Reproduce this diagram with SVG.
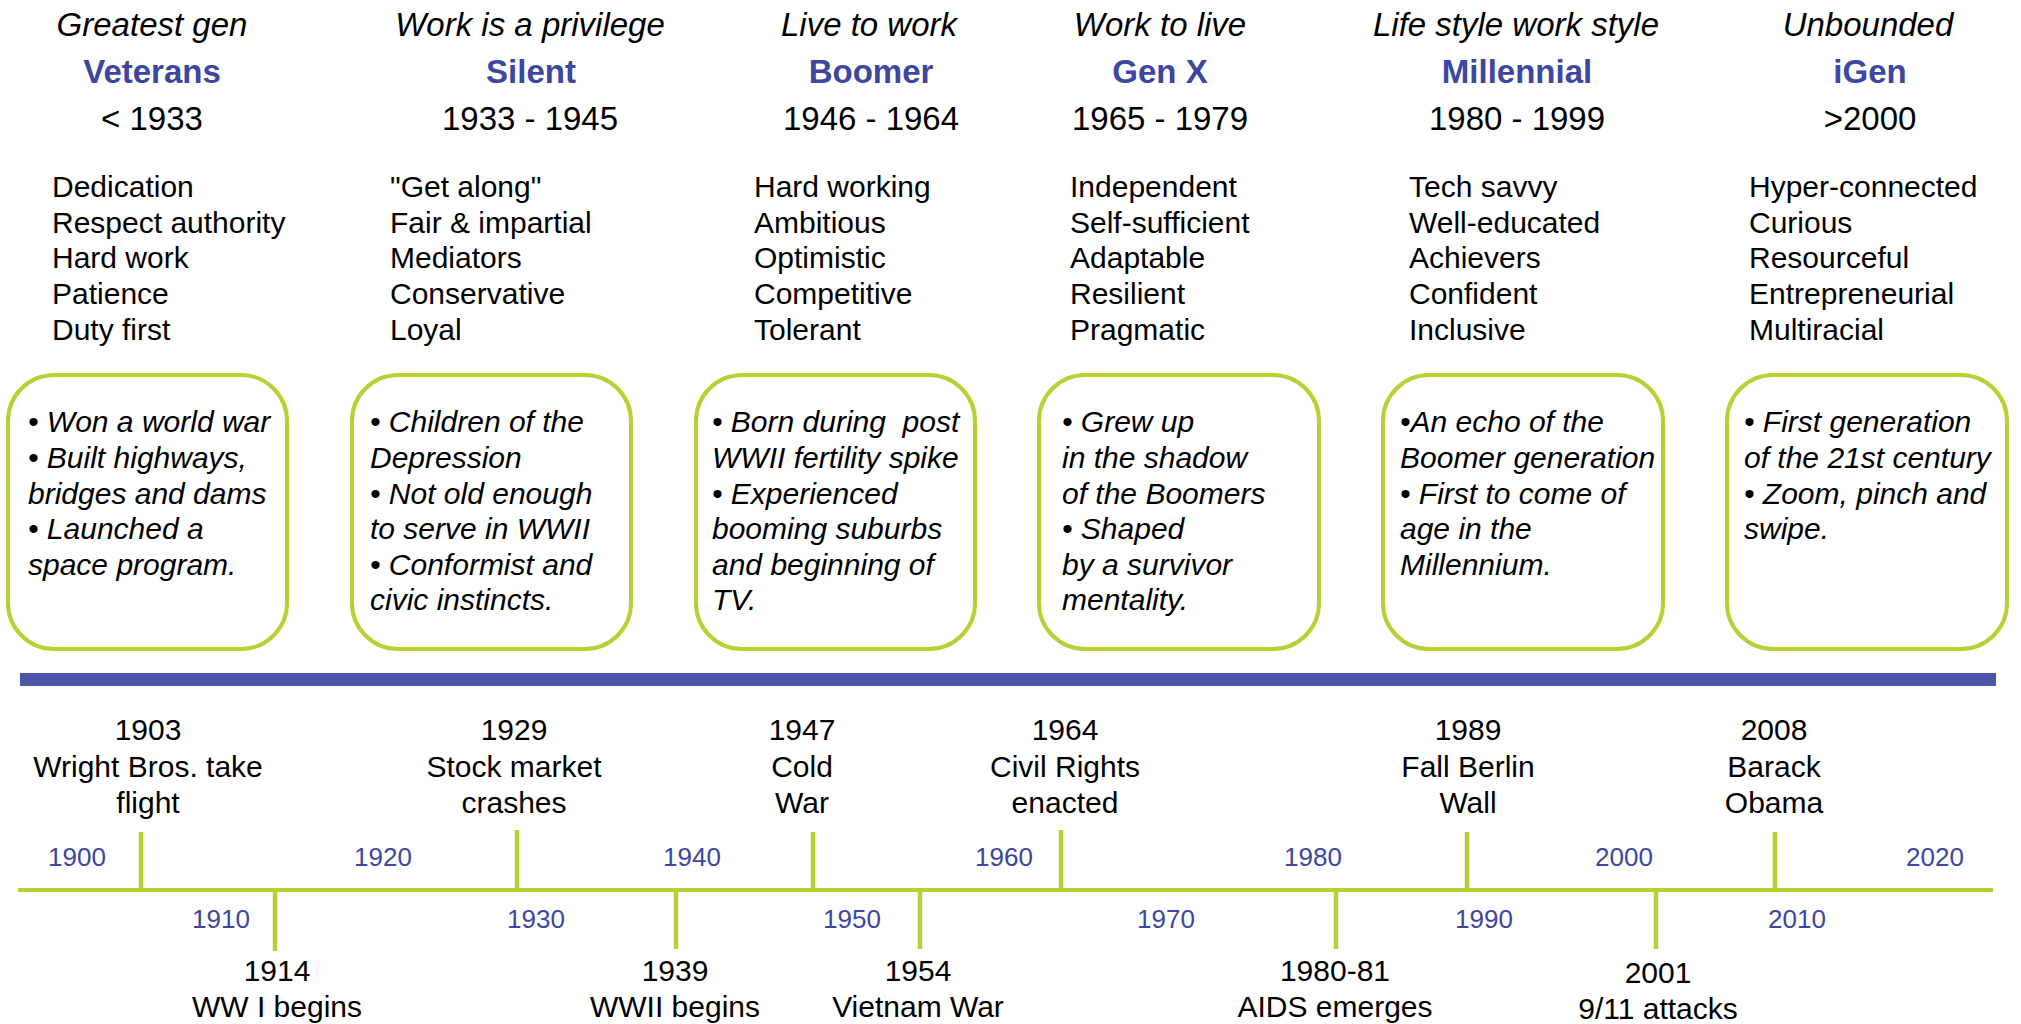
<svg xmlns="http://www.w3.org/2000/svg" width="2021" height="1024" viewBox="0 0 2021 1024">
  <style>
    text { font-family: "Liberation Sans", Arial, sans-serif; fill: #000; }
    .motto { font-size: 33px; font-style: italic; text-anchor: middle; }
    .name { font-size: 33px; font-weight: bold; fill: #3D46A0; text-anchor: middle; }
    .years { font-size: 33px; text-anchor: middle; }
    .trait { font-size: 30px; }
    .note { font-size: 30px; font-style: italic; }
    .box { fill: #fff; stroke: #B3D334; stroke-width: 4; }
    .event { font-size: 30px; text-anchor: middle; }
    .decade { font-size: 26px; fill: #3D46A0; text-anchor: middle; }
    .axis { stroke: #B3D334; stroke-width: 4; fill: none; }
    .tick { stroke: #B3D334; stroke-width: 4.5; fill: none; }
  </style>

  <rect width="2021" height="1024" fill="#fff"/>

  <!-- Generation columns -->
  <g id="gen-veterans">
    <text class="motto" x="152" y="36">Greatest gen</text>
    <text class="name" x="152" y="83">Veterans</text>
    <text class="years" x="152" y="130">&lt; 1933</text>
    <text class="trait" x="52" y="197">Dedication</text>
    <text class="trait" x="52" y="233">Respect authority</text>
    <text class="trait" x="52" y="268">Hard work</text>
    <text class="trait" x="52" y="304">Patience</text>
    <text class="trait" x="52" y="340">Duty first</text>
    <rect class="box" x="8" y="375" width="279" height="274" rx="46"/>
    <text class="note" x="28" y="432">• Won a world war</text>
    <text class="note" x="28" y="468">• Built highways,</text>
    <text class="note" x="28" y="504">bridges and dams</text>
    <text class="note" x="28" y="539">• Launched a</text>
    <text class="note" x="28" y="575">space program.</text>
  </g>

  <g id="gen-silent">
    <text class="motto" x="530" y="36">Work is a privilege</text>
    <text class="name" x="531" y="83">Silent</text>
    <text class="years" x="530" y="130">1933 - 1945</text>
    <text class="trait" x="390" y="197">"Get along"</text>
    <text class="trait" x="390" y="233">Fair &amp; impartial</text>
    <text class="trait" x="390" y="268">Mediators</text>
    <text class="trait" x="390" y="304">Conservative</text>
    <text class="trait" x="390" y="340">Loyal</text>
    <rect class="box" x="352" y="375" width="279" height="274" rx="46"/>
    <text class="note" x="370" y="432">• Children of the</text>
    <text class="note" x="370" y="468">Depression</text>
    <text class="note" x="370" y="504">• Not old enough</text>
    <text class="note" x="370" y="539">to serve in WWII</text>
    <text class="note" x="370" y="575">• Conformist and</text>
    <text class="note" x="370" y="610">civic instincts.</text>
  </g>

  <g id="gen-boomer">
    <text class="motto" x="869" y="36">Live to work</text>
    <text class="name" x="871" y="83">Boomer</text>
    <text class="years" x="871" y="130">1946 - 1964</text>
    <text class="trait" x="754" y="197">Hard working</text>
    <text class="trait" x="754" y="233">Ambitious</text>
    <text class="trait" x="754" y="268">Optimistic</text>
    <text class="trait" x="754" y="304">Competitive</text>
    <text class="trait" x="754" y="340">Tolerant</text>
    <rect class="box" x="696" y="375" width="279" height="274" rx="46"/>
    <text class="note" x="712" y="432" xml:space="preserve">• Born during  post</text>
    <text class="note" x="712" y="468">WWII fertility spike</text>
    <text class="note" x="712" y="504">• Experienced</text>
    <text class="note" x="712" y="539">booming suburbs</text>
    <text class="note" x="712" y="575">and beginning of</text>
    <text class="note" x="712" y="610">TV.</text>
  </g>

  <g id="gen-x">
    <text class="motto" x="1160" y="36">Work to live</text>
    <text class="name" x="1160" y="83">Gen X</text>
    <text class="years" x="1160" y="130">1965 - 1979</text>
    <text class="trait" x="1070" y="197">Independent</text>
    <text class="trait" x="1070" y="233">Self-sufficient</text>
    <text class="trait" x="1070" y="268">Adaptable</text>
    <text class="trait" x="1070" y="304">Resilient</text>
    <text class="trait" x="1070" y="340">Pragmatic</text>
    <rect class="box" x="1039" y="375" width="280" height="274" rx="46"/>
    <text class="note" x="1062" y="432">• Grew up</text>
    <text class="note" x="1062" y="468">in the shadow</text>
    <text class="note" x="1062" y="504">of the Boomers</text>
    <text class="note" x="1062" y="539">• Shaped</text>
    <text class="note" x="1062" y="575">by a survivor</text>
    <text class="note" x="1062" y="610">mentality.</text>
  </g>

  <g id="gen-millennial">
    <text class="motto" x="1516" y="36">Life style work style</text>
    <text class="name" x="1517" y="83">Millennial</text>
    <text class="years" x="1517" y="130">1980 - 1999</text>
    <text class="trait" x="1409" y="197">Tech savvy</text>
    <text class="trait" x="1409" y="233">Well-educated</text>
    <text class="trait" x="1409" y="268">Achievers</text>
    <text class="trait" x="1409" y="304">Confident</text>
    <text class="trait" x="1409" y="340">Inclusive</text>
    <rect class="box" x="1383" y="375" width="280" height="274" rx="46"/>
    <text class="note" x="1400" y="432">•An echo of the</text>
    <text class="note" x="1400" y="468">Boomer generation</text>
    <text class="note" x="1400" y="504">• First to come of</text>
    <text class="note" x="1400" y="539">age in the</text>
    <text class="note" x="1400" y="575">Millennium.</text>
  </g>

  <g id="gen-igen">
    <text class="motto" x="1868" y="36">Unbounded</text>
    <text class="name" x="1870" y="83">iGen</text>
    <text class="years" x="1870" y="130">&gt;2000</text>
    <text class="trait" x="1749" y="197">Hyper-connected</text>
    <text class="trait" x="1749" y="233">Curious</text>
    <text class="trait" x="1749" y="268">Resourceful</text>
    <text class="trait" x="1749" y="304">Entrepreneurial</text>
    <text class="trait" x="1749" y="340">Multiracial</text>
    <rect class="box" x="1727" y="375" width="280" height="274" rx="46"/>
    <text class="note" x="1744" y="432">• First generation</text>
    <text class="note" x="1744" y="468">of the 21st century</text>
    <text class="note" x="1744" y="504">• Zoom, pinch and</text>
    <text class="note" x="1744" y="539">swipe.</text>
  </g>

  <!-- Divider bar -->
  <rect id="divider" x="20" y="673" width="1976" height="13" fill="#4C56A9"/>

  <!-- Timeline axis with decade labels -->
  <g id="timeline">
    <line class="axis" x1="18" y1="890" x2="1993" y2="890"/>
    <text class="decade" x="77" y="866">1900</text>
    <text class="decade" x="383" y="866">1920</text>
    <text class="decade" x="692" y="866">1940</text>
    <text class="decade" x="1004" y="866">1960</text>
    <text class="decade" x="1313" y="866">1980</text>
    <text class="decade" x="1624" y="866">2000</text>
    <text class="decade" x="1935" y="866">2020</text>
    <text class="decade" x="221" y="928">1910</text>
    <text class="decade" x="536" y="928">1930</text>
    <text class="decade" x="852" y="928">1950</text>
    <text class="decade" x="1166" y="928">1970</text>
    <text class="decade" x="1484" y="928">1990</text>
    <text class="decade" x="1797" y="928">2010</text>
  </g>

  <!-- Event ticks -->
  <g id="connectors">
    <line class="tick" x1="141" y1="832" x2="141" y2="890"/>
    <line class="tick" x1="517" y1="830" x2="517" y2="890"/>
    <line class="tick" x1="813" y1="832" x2="813" y2="890"/>
    <line class="tick" x1="1061" y1="830" x2="1061" y2="890"/>
    <line class="tick" x1="1467" y1="832" x2="1467" y2="890"/>
    <line class="tick" x1="1775" y1="832" x2="1775" y2="890"/>
    <line class="tick" x1="275" y1="890" x2="275" y2="951"/>
    <line class="tick" x1="676" y1="890" x2="676" y2="949"/>
    <line class="tick" x1="920" y1="890" x2="920" y2="949"/>
    <line class="tick" x1="1336" y1="890" x2="1336" y2="949"/>
    <line class="tick" x1="1656" y1="890" x2="1656" y2="949"/>
  </g>

  <!-- Events above the axis -->
  <g id="event-1903">
    <text class="event" x="148" y="740">1903</text>
    <text class="event" x="148" y="777">Wright Bros. take</text>
    <text class="event" x="148" y="813">flight</text>
  </g>
  <g id="event-1929">
    <text class="event" x="514" y="740">1929</text>
    <text class="event" x="514" y="777">Stock market</text>
    <text class="event" x="514" y="813">crashes</text>
  </g>
  <g id="event-1947">
    <text class="event" x="802" y="740">1947</text>
    <text class="event" x="802" y="777">Cold</text>
    <text class="event" x="802" y="813">War</text>
  </g>
  <g id="event-1964">
    <text class="event" x="1065" y="740">1964</text>
    <text class="event" x="1065" y="777">Civil Rights</text>
    <text class="event" x="1065" y="813">enacted</text>
  </g>
  <g id="event-1989">
    <text class="event" x="1468" y="740">1989</text>
    <text class="event" x="1468" y="777">Fall Berlin</text>
    <text class="event" x="1468" y="813">Wall</text>
  </g>
  <g id="event-2008">
    <text class="event" x="1774" y="740">2008</text>
    <text class="event" x="1774" y="777">Barack</text>
    <text class="event" x="1774" y="813">Obama</text>
  </g>

  <!-- Events below the axis -->
  <g id="event-1914">
    <text class="event" x="277" y="981">1914</text>
    <text class="event" x="277" y="1017">WW I begins</text>
  </g>
  <g id="event-1939">
    <text class="event" x="675" y="981">1939</text>
    <text class="event" x="675" y="1017">WWII begins</text>
  </g>
  <g id="event-1954">
    <text class="event" x="918" y="981">1954</text>
    <text class="event" x="918" y="1017">Vietnam War</text>
  </g>
  <g id="event-1980">
    <text class="event" x="1335" y="981">1980-81</text>
    <text class="event" x="1335" y="1017">AIDS emerges</text>
  </g>
  <g id="event-2001">
    <text class="event" x="1658" y="983">2001</text>
    <text class="event" x="1658" y="1019">9/11 attacks</text>
  </g>
</svg>
